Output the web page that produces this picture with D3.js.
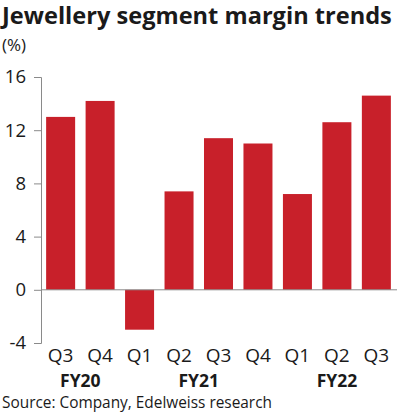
<!DOCTYPE html>
<html>
<head>
<meta charset="utf-8">
<script src="https://cdn.jsdelivr.net/npm/d3@7"></script>
<style>
  body { margin: 0; background: #fff; }
  text { font-family: "Open Sans", Lato, sans-serif; fill: #1a1a1a; }
</style>
</head>
<body>
<div id="chart"></div>
<script>
var quarters = ["Q3", "Q4", "Q1", "Q2", "Q3", "Q4", "Q1", "Q2", "Q3"];
var years = ["FY20", "FY20", "FY21", "FY21", "FY21", "FY21", "FY22", "FY22", "FY22"];
var margins = [13.0, 14.2, -3.0, 7.4, 11.4, 11.0, 7.2, 12.6, 14.6];
var yTicks = [-4, 0, 4, 8, 12, 16];
var yearLabels = [
    { name: "FY20", from: 0, to: 1 },
    { name: "FY21", from: 2, to: 5 },
    { name: "FY22", from: 7, to: 7 }
];

var width = 397, height = 413;
var margin = { top: 77, right: 1, bottom: 71, left: 41 };

var data = quarters.map(function (q, i) {
    return { id: i, q: q, fy: years[i], value: margins[i] };
});

var svg = d3.select("#chart").append("svg")
    .attr("width", width)
    .attr("height", height);

var x = d3.scaleBand()
    .domain(data.map(function (d) { return d.id; }))
    .range([margin.left, width - margin.right])
    .paddingInner(0.265)
    .paddingOuter(0.13);

var y = d3.scaleLinear()
    .domain([-4, 16])
    .range([height - margin.bottom + 1, margin.top]);

// title
svg.append("text")
    .attr("x", 2)
    .attr("y", 24)
    .style("font-size", "23.6px")
    .style("font-weight", "bold")
    .text("Jewellery segment margin trends");

svg.append("text")
    .attr("x", 2)
    .attr("y", 51)
    .style("font-size", "17px")
    .text("(%)");

// y axis
var yAxis = svg.append("g")
    .attr("transform", "translate(" + margin.left + ",0)")
    .call(d3.axisLeft(y).tickValues(yTicks).tickSize(7).tickSizeOuter(7).tickPadding(8)
        .tickFormat(function (d) { return String(d); }));
yAxis.select(".domain").attr("stroke", "#8a8a8a");
yAxis.selectAll(".tick line").attr("stroke", "#8a8a8a");
yAxis.selectAll(".tick text")
    .style("font-size", "18.5px")
    .style("fill", "#1a1a1a");

// bars
svg.selectAll(".bar")
    .data(data)
    .enter().append("rect")
    .attr("class", "bar")
    .attr("x", function (d) { return x(d.id); })
    .attr("y", function (d) { return y(Math.max(0, d.value)); })
    .attr("width", x.bandwidth())
    .attr("height", function (d) { return Math.abs(y(d.value) - y(0)); })
    .style("fill", "#c8202a");

// zero line
svg.append("line")
    .attr("x1", margin.left)
    .attr("x2", width)
    .attr("y1", y(0))
    .attr("y2", y(0))
    .attr("stroke", "#8a8a8a")
    .attr("stroke-width", 1);

// quarter labels
svg.selectAll(".qlabel")
    .data(data)
    .enter().append("text")
    .attr("class", "qlabel")
    .attr("x", function (d) { return x(d.id) + x.bandwidth() / 2; })
    .attr("y", 362)
    .attr("text-anchor", "middle")
    .style("font-size", "19px")
    .text(function (d) { return d.q; });

// fiscal year labels
svg.selectAll(".fylabel")
    .data(yearLabels)
    .enter().append("text")
    .attr("class", "fylabel")
    .attr("x", function (d) {
        return (x(d.from) + x(d.to) + x.bandwidth()) / 2;
    })
    .attr("y", 387)
    .attr("text-anchor", "middle")
    .style("font-size", "17.5px")
    .style("font-weight", "bold")
    .text(function (d) { return d.name; });

svg.append("text")
    .attr("x", 2)
    .attr("y", 408)
    .style("font-size", "15.4px")
    .text("Source: Company, Edelweiss research");
</script>
</body>
</html>
